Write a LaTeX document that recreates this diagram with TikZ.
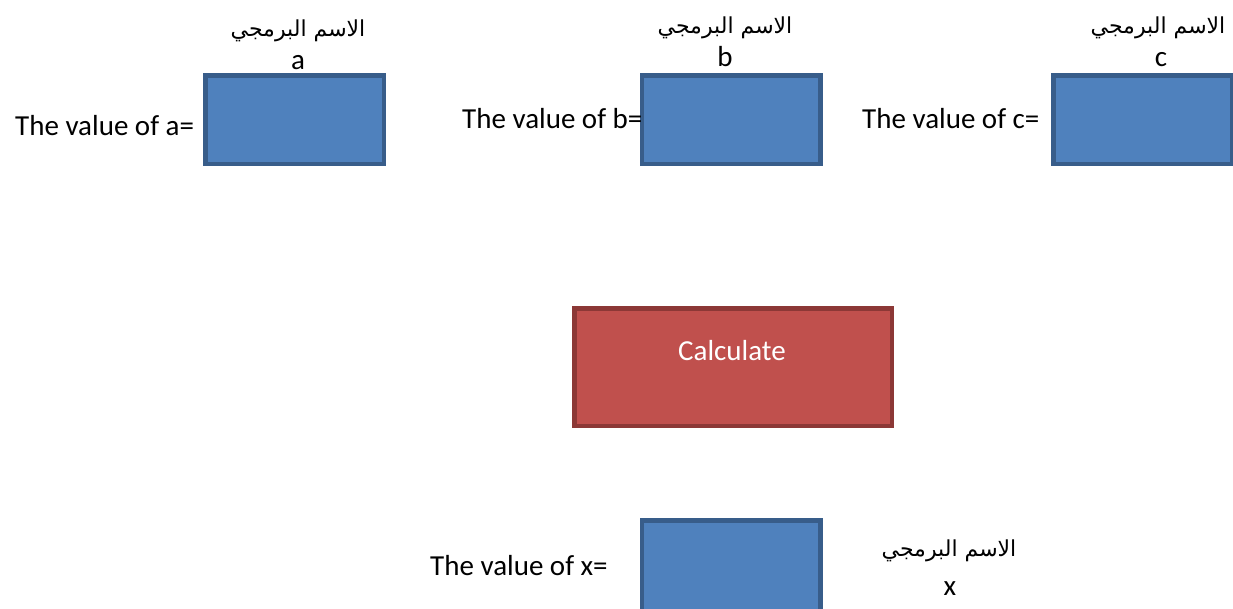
\documentclass[tikz,border=0pt]{standalone}
\usepackage{fontspec}
\setmainfont{Carlito}
\newfontfamily\arabicfont[Script=Arabic]{DejaVu Sans}
\TeXXeTstate=1
\definecolor{bfill}{HTML}{4F81BD}
\definecolor{bdraw}{HTML}{385D8A}
\definecolor{rfill}{HTML}{C0504D}
\definecolor{rdraw}{HTML}{8C3836}
\tikzset{
  bluebox/.style={draw=bdraw, fill=bfill, line width=4.5pt, minimum width=178.5pt, minimum height=88.5pt, inner sep=0pt},
  redbox/.style={draw=rdraw, fill=rfill, line width=4.5pt, minimum width=317.5pt, minimum height=117.5pt, inner sep=0pt},
  lbl/.style={inner sep=0pt, font=\fontsize{29}{34}\selectfont},
  arlbl/.style={inner sep=0pt, font=\arabicfont\fontsize{22}{26}\selectfont},
}
\begin{document}
\begin{tikzpicture}[x=1pt,y=-1pt]
\useasboundingbox (0,0) rectangle (1233,608);
\begin{scope}
\clip (0,0) rectangle (1233,608);
\node[bluebox] (boxA) at (294.5,119.5) {};
\node[bluebox] (boxB) at (731,119.5) {};
\node[bluebox] (boxC) at (1142.5,119.5) {};
\node[bluebox, minimum height=98.5pt] (boxX) at (731,569.5) {};
\end{scope}
\node[redbox] (calc) at (733,367) {};
\node[lbl, text=white, anchor=base] (calcT) at (732,360) {Calculate};

\node[lbl, anchor=base west] (valA) at (15,135) {The value of a=};
\node[lbl, anchor=base west] (valB) at (462,128) {The value of b=};
\node[lbl, anchor=base west] (valC) at (862,128) {The value of c=};
\node[lbl, anchor=base west] (valX) at (430,575) {The value of x=};

\node[arlbl, anchor=base] (arA) at (298,36) {\beginR الاسم البرمجي\endR};
\node[lbl, anchor=base] (nmA) at (298,69) {a};
\node[arlbl, anchor=base] (arB) at (725,33) {\beginR الاسم البرمجي\endR};
\node[lbl, anchor=base] (nmB) at (725,66) {b};
\node[arlbl, anchor=base] (arC) at (1158,33) {\beginR الاسم البرمجي\endR};
\node[lbl, anchor=base] (nmC) at (1161,66) {c};
\node[arlbl, anchor=base] (arX) at (949,556) {\beginR الاسم البرمجي\endR};
\node[lbl, anchor=base] (nmX) at (950,595) {x};
\end{tikzpicture}
\end{document}
